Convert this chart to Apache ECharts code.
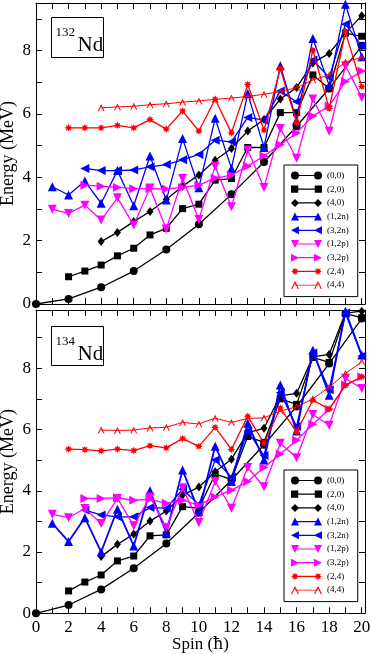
<!DOCTYPE html>
<html>
<head>
<meta charset="utf-8">
<script src="https://cdn.jsdelivr.net/npm/echarts@6/dist/echarts.min.js"></script>
<style>
html, body { margin: 0; padding: 0; background: #fff; }
#chart { width: 371px; height: 654px; }
</style>
</head>
<body>
<div id="chart"></div>
<script>
// spins for each band
var spinEven = [0, 2, 4, 6, 8, 10, 12, 14, 16, 18, 20];
var spinFrom1 = [1, 2, 3, 4, 5, 6, 7, 8, 9, 10, 11, 12, 13, 14, 15, 16, 17, 18, 19, 20];
var spinFrom2 = [2, 3, 4, 5, 6, 7, 8, 9, 10, 11, 12, 13, 14, 15, 16, 17, 18, 19, 20];
var spinFrom3 = [3, 4, 5, 6, 7, 8, 9, 10, 11, 12, 13, 14, 15, 16, 17, 18, 19, 20];
var spinFrom4 = [4, 5, 6, 7, 8, 9, 10, 11, 12, 13, 14, 15, 16, 17, 18, 19, 20];

var bandNames = ['(0,0)', '(2,0)', '(4,0)', '(1,2n)', '(3,2n)', '(1,2p)', '(3,2p)', '(2,4)', '(4,4)'];
var bandSpins = [spinEven, spinFrom2, spinFrom4, spinFrom1, spinFrom3, spinFrom1, spinFrom3, spinFrom2, spinFrom4];

// 132Nd energies (MeV)
var nd132_00 = [0, 0.16, 0.53, 1.04, 1.72, 2.52, 3.46, 4.48, 5.61, 6.8, 8.15];
var nd132_20 = [0.86, 1.04, 1.23, 1.52, 1.76, 2.18, 2.39, 3.01, 3.15, 3.91, 3.96, 4.94, 4.94, 6.04, 6.04, 7.23, 6.80, 8.55, 8.45];
var nd132_40 = [1.97, 2.26, 2.60, 2.92, 3.30, 3.72, 4.07, 4.54, 4.91, 5.46, 5.82, 6.47, 6.83, 7.61, 7.91, 8.55, 9.10];
var nd132_12n = [3.70, 3.44, 3.88, 3.18, 4.21, 3.10, 4.67, 3.28, 5.22, 3.67, 5.86, 4.28, 6.64, 4.94, 7.52, 5.8, 8.38, 6.9, 9.46, 7.8];
var nd132_32n = [4.28, 4.21, 4.21, 4.23, 4.33, 4.40, 4.55, 4.72, 5.17, 5.12, 5.89, 5.80, 6.72, 6.38, 7.70, 7.15, 8.83, 8.15];
var nd132_12p = [2.99, 2.86, 3.12, 2.65, 3.35, 2.49, 3.66, 2.37, 3.96, 2.67, 4.35, 3.07, 4.86, 3.68, 5.54, 4.6, 6.47, 5.45, 7.52, 6.52];
var nd132_32p = [3.75, 3.72, 3.68, 3.64, 3.64, 3.63, 3.68, 3.75, 3.97, 4.07, 4.35, 4.67, 5.03, 5.40, 5.93, 6.25, 7.02, 7.35];
var nd132_24 = [5.56, 5.56, 5.56, 5.64, 5.56, 5.82, 5.52, 6.09, 5.46, 6.46, 5.40, 6.93, 5.49, 7.43, 5.73, 8.01, 6.17, 8.59, 6.86];
var nd132_44 = [6.19, 6.22, 6.24, 6.29, 6.32, 6.37, 6.41, 6.46, 6.50, 6.55, 6.62, 6.70, 6.83, 7.07, 7.23, 7.64, 7.78];

// 134Nd energies (MeV)
var nd134_00 = [0, 0.27, 0.78, 1.47, 2.28, 3.28, 4.35, 5.5, 6.75, 8.15, 9.62];
var nd134_20 = [0.73, 1.02, 1.25, 1.71, 1.87, 2.53, 2.56, 3.48, 3.43, 4.54, 4.37, 5.77, 5.58, 7.0, 6.82, 8.35, 8.19, 9.78, 9.65];
var nd134_40 = [1.85, 2.25, 2.59, 3.01, 3.34, 3.86, 4.12, 4.62, 5.03, 5.9, 6.04, 7.1, 7.18, 8.37, 8.45, 9.8, 9.86];
var nd134_12n = [2.94, 2.34, 3.12, 2.0, 3.4, 2.2, 4.0, 2.62, 4.68, 3.32, 5.45, 4.3, 6.2, 5.0, 7.45, 5.95, 8.59, 7.12, 9.86, 8.43];
var nd134_32n = [3.37, 3.21, 3.15, 3.15, 3.45, 3.43, 4.05, 3.55, 5.0, 4.45, 5.95, 5.15, 7.2, 6.1, 8.5, 7.3, 9.8, 8.4];
var nd134_12p = [3.23, 3.12, 3.42, 2.93, 3.75, 2.86, 3.8, 2.8, 4.1, 2.96, 4.3, 3.43, 4.76, 4.13, 5.55, 5.08, 6.49, 6.14, 7.67, 7.34];
var nd134_32p = [3.75, 3.75, 3.77, 3.69, 3.72, 3.59, 3.69, 3.53, 3.8, 4.02, 4.3, 4.76, 5.2, 5.65, 6.17, 6.66, 7.45, 7.72];
var nd134_24 = [5.36, 5.34, 5.30, 5.36, 5.31, 5.47, 5.40, 5.70, 5.45, 6.07, 5.35, 6.43, 5.55, 6.70, 5.92, 6.96, 6.67, 7.44, 7.72];
var nd134_44 = [5.98, 5.97, 5.98, 6.05, 6.07, 6.23, 6.18, 6.37, 6.23, 6.36, 6.38, 6.60, 6.74, 7.0, 7.38, 7.83, 8.21];

var nd132 = [nd132_00, nd132_20, nd132_40, nd132_12n, nd132_32n, nd132_12p, nd132_32p, nd132_24, nd132_44];
var nd134 = [nd134_00, nd134_20, nd134_40, nd134_12n, nd134_32n, nd134_12p, nd134_32p, nd134_24, nd134_44];

var serif = '"Liberation Serif", "DejaVu Serif", serif';

// marker shapes
function starPoints(cx, cy, ro, ri, n) {
  var s = '';
  for (var k = 0; k < n * 2; k++) {
    var r = k % 2 === 0 ? ro : ri;
    var a = -Math.PI / 2 + k * Math.PI / n;
    s += (k === 0 ? 'M' : 'L') + (cx + r * Math.cos(a)).toFixed(2) + ',' + (cy + r * Math.sin(a)).toFixed(2);
  }
  return s + 'Z';
}
var starSymbol = 'path://' + starPoints(5, 5, 5, 2.6, 8);
var caretSymbol = 'path://M0,10L5,0L10,10L8.4,10L5,3.2L1.6,10Z';

var colors = ['#000', '#000', '#000', '#0000ff', '#0000ff', '#ff00ff', '#ff00ff', '#ff0000', '#ff0000'];
var symbols = ['circle', 'rect', 'diamond', 'triangle', 'triangle', 'triangle', 'triangle', starSymbol, caretSymbol];
var symbolRot = [0, 0, 0, 0, 90, 180, -90, 0, 0];
var symbolSizes = [8, 7, [7, 9], 9, 9, 9, 9, 8, 7];

// legend icons: marker at both ends joined by a line
var bar = 'M4,3.4L27,3.4L27,4.6L4,4.6Z';
var legendIcons = [
  'path://M0,4A4,4 0 1,1 8,4A4,4 0 1,1 0,4Z M23,4A4,4 0 1,1 31,4A4,4 0 1,1 23,4Z ' + bar,
  'path://M0.5,0.5L7.5,0.5L7.5,7.5L0.5,7.5Z M23.5,0.5L30.5,0.5L30.5,7.5L23.5,7.5Z ' + bar,
  'path://M0,4L4,0L8,4L4,8Z M23,4L27,0L31,4L27,8Z ' + bar,
  'path://M0,8L4,0L8,8Z M23,8L27,0L31,8Z ' + bar,
  'path://M0,4L8,0L8,8Z M23,4L31,0L31,8Z ' + bar,
  'path://M0,0L8,0L4,8Z M23,0L31,0L27,8Z ' + bar,
  'path://M0,0L8,4L0,8Z M23,0L31,4L23,8Z ' + bar,
  'path://' + starPoints(4, 4, 4, 2.1, 8) + ' ' + starPoints(27, 4, 4, 2.1, 8) + ' ' + bar,
  'path://M0,8L4,0L8,8L6.8,8L4,2.4L1.2,8Z M23,8L27,0L31,8L29.8,8L27,2.4L24.2,8Z M4,3.6L27,3.6L27,4.4L4,4.4Z'
];

function evenLabel(v) {
  return Math.abs(v % 2) < 1e-9 ? String(v) : '';
}

function zip(xs, ys) {
  return xs.map(function(x, i) { return [x, ys[i]]; });
}

function bandSeries(values, xi, yi, thickBlue) {
  return bandNames.map(function(name, i) {
    var w = i === 8 ? 1 : 1.3;
    if (thickBlue && i === 3) w = 1.8;
    return {
      name: name,
      type: 'line',
      xAxisIndex: xi,
      yAxisIndex: yi,
      data: zip(bandSpins[i], values[i]),
      symbol: symbols[i],
      symbolSize: symbolSizes[i],
      symbolRotate: symbolRot[i],
      showAllSymbol: true,
      lineStyle: { color: colors[i], width: w },
      itemStyle: { color: colors[i], borderWidth: 0 },
      emphasis: { disabled: true },
      z: 2 + i * 0.1
    };
  });
}

var axisLine = { show: true, onZero: false, lineStyle: { color: '#000', width: 1 } };
var tick = { show: true, inside: true, length: 6, lineStyle: { color: '#000', width: 1 } };
var labelFont = { fontFamily: serif, fontSize: 17, color: '#000' };
var nameFont = { fontFamily: serif, fontSize: 18, color: '#000' };

function xAxisDef(grid, pos, labelled) {
  var ax = {
    type: 'value', gridIndex: grid, position: pos, min: 0, max: 20.2, interval: 1,
    axisLine: axisLine, axisTick: tick, splitLine: { show: false },
    axisLabel: labelled ? Object.assign({ margin: 6, formatter: evenLabel }, labelFont) : { show: false }
  };
  if (labelled) {
    ax.name = 'Spin ({h|\u0127})';
    ax.nameLocation = 'middle';
    ax.nameGap = 23;
    ax.nameMoveOverlap = false;
    ax.nameTextStyle = Object.assign({
      rich: { h: { fontFamily: '"DejaVu Serif", serif', fontSize: 16, color: '#000' } }
    }, labelFont);
  }
  return ax;
}

function yAxisDef(grid, pos, max, labelled) {
  var ax = {
    type: 'value', gridIndex: grid, position: pos, min: 0, max: max, interval: 1,
    axisLine: axisLine, axisTick: tick, splitLine: { show: false },
    axisLabel: labelled ? Object.assign({ margin: 5, formatter: evenLabel }, labelFont) : { show: false }
  };
  if (labelled) {
    ax.name = 'Energy (MeV)';
    ax.nameLocation = 'middle';
    ax.nameGap = 19;
    ax.nameMoveOverlap = false;
    ax.nameTextStyle = nameFont;
  }
  return ax;
}

function makeLegend(top) {
  return {
    orient: 'vertical', left: 284, top: top,
    itemWidth: 31, itemHeight: 8, itemGap: 4.7,
    padding: [6, 9, 7, 7],
    backgroundColor: '#fff', borderColor: '#000', borderWidth: 1, borderRadius: 0,
    selectedMode: false,
    textStyle: { fontFamily: serif, fontSize: 9, color: '#000' },
    data: bandNames.map(function(n, i) { return { name: n, icon: legendIcons[i] }; }),
    z: 10
  };
}

function nucleusBox(y, h, mass) {
  return {
    type: 'group', left: 51, top: y, z: 100,
    children: [
      { type: 'rect', shape: { x: 0, y: 0, width: 52, height: h }, style: { fill: '#fff', stroke: '#000', lineWidth: 1 } },
      { type: 'text', x: 4, y: 9, style: { text: mass, font: '13px ' + serif, fill: '#000' } },
      { type: 'text', x: 26, y: 17, style: { text: 'Nd', font: '21px ' + serif, fill: '#000' } }
    ]
  };
}

var chart = echarts.init(document.getElementById('chart'), null, { renderer: 'canvas' });
chart.setOption({
  animation: false,
  backgroundColor: '#fff',
  grid: [
    { left: 36, top: 3, width: 329, height: 301, outerBoundsMode: 'none', containLabel: false },
    { left: 36, top: 310, width: 329, height: 303.3, outerBoundsMode: 'none', containLabel: false }
  ],
  xAxis: [
    xAxisDef(0, 'bottom', false),
    xAxisDef(1, 'bottom', true),
    xAxisDef(0, 'top', false),
    xAxisDef(1, 'top', false)
  ],
  yAxis: [
    yAxisDef(0, 'left', 9.5, true),
    yAxisDef(1, 'left', 9.9, true),
    yAxisDef(0, 'right', 9.5, false),
    yAxisDef(1, 'right', 9.9, false)
  ],
  legend: [makeLegend(165), makeLegend(470)],
  graphic: [nucleusBox(17, 40, '132'), nucleusBox(326, 39, '134')],
  series: bandSeries(nd132, 0, 0, false).concat(bandSeries(nd134, 1, 1, true))
});
</script>
</body>
</html>
